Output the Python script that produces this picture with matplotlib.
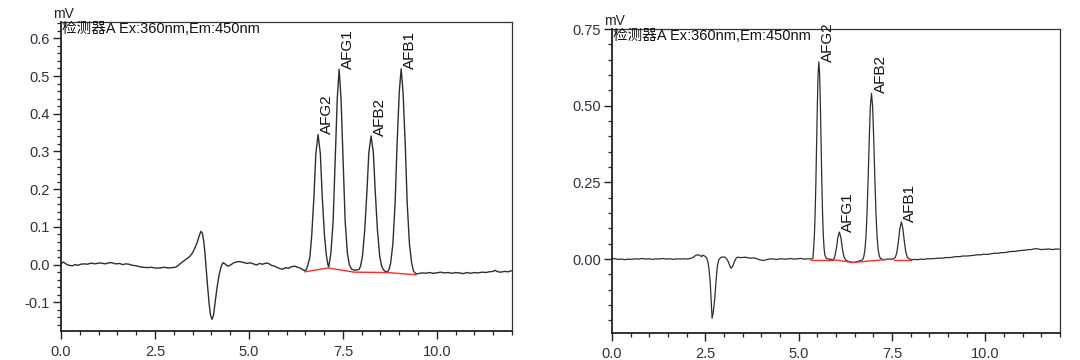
import matplotlib
matplotlib.use("Agg")
import matplotlib.pyplot as plt
from matplotlib.ticker import MultipleLocator, FixedLocator

# ---------------- data: left chromatogram ----------------
left_time = [
    0.00, 0.06, 0.12, 0.16, 0.22, 0.30, 0.38, 0.45, 0.52, 0.62, 0.70, 0.80, 0.90, 1.00,
    1.08, 1.18, 1.27, 1.35, 1.45, 1.55, 1.65, 1.72, 1.81, 1.90, 2.00, 2.10, 2.18, 2.30,
    2.40, 2.50, 2.64, 2.75, 2.85, 2.95, 3.05, 3.12, 3.19, 3.27, 3.35, 3.42, 3.50, 3.56,
    3.62, 3.67, 3.72, 3.76, 3.80, 3.83, 3.86, 3.90, 3.94, 3.98, 4.02, 4.06, 4.10, 4.15,
    4.20, 4.26, 4.31, 4.36, 4.43, 4.50, 4.58, 4.66, 4.75, 4.85, 4.95, 5.02, 5.12, 5.20,
    5.28, 5.36, 5.45, 5.52, 5.60, 5.68, 5.76, 5.84, 5.90, 5.98, 6.05, 6.12, 6.22, 6.30,
    6.38, 6.45, 6.50, 6.53,
    6.56, 6.62, 6.67, 6.73, 6.78, 6.84, 6.90, 6.95, 7.01, 7.06, 7.10, 7.12,
    7.14, 7.18, 7.24, 7.29, 7.35, 7.40, 7.45, 7.51, 7.56, 7.62, 7.67, 7.73, 7.81,
    7.93, 7.97, 8.02, 8.08, 8.14, 8.19, 8.25, 8.31, 8.36, 8.42, 8.48, 8.53, 8.58, 8.63, 8.69,
    8.73, 8.77, 8.83, 8.89, 8.94, 9.00, 9.05, 9.10, 9.16, 9.21, 9.27, 9.33, 9.38, 9.44,
    9.50, 9.60, 9.70, 9.80, 9.90, 10.00, 10.10, 10.20, 10.30, 10.40, 10.50, 10.60, 10.70,
    10.80, 10.90, 11.00, 11.10, 11.20, 11.30, 11.40, 11.50, 11.55, 11.62, 11.70, 11.80,
    11.90, 12.00,
]
left_signal = [
    0.002, 0.007, 0.003, 0.000, -0.002, -0.003, 0.000, -0.002, 0.001, 0.002, 0.001, 0.004, 0.002, 0.004,
    0.004, 0.002, 0.005, 0.005, 0.002, 0.003, 0.000, 0.002, 0.001, -0.002, -0.003, -0.006, -0.007, -0.008,
    -0.007, -0.009, -0.009, -0.007, -0.009, -0.008, -0.007, -0.002, 0.004, 0.010, 0.016, 0.021, 0.031, 0.044,
    0.058, 0.074, 0.088, 0.084, 0.060, 0.030, -0.008, -0.058, -0.103, -0.135, -0.145, -0.133, -0.100, -0.062,
    -0.030, -0.005, 0.005, 0.002, -0.004, -0.002, 0.004, 0.007, 0.008, 0.006, 0.003, 0.005, 0.002, -0.001,
    0.003, 0.001, 0.004, 0.003, -0.002, -0.004, -0.008, -0.011, -0.012, -0.008, -0.010, -0.006, -0.004, -0.007,
    -0.010, -0.015, -0.016, -0.012,
    -0.004, 0.019, 0.077, 0.181, 0.294, 0.345, 0.294, 0.181, 0.077, 0.025, 0.000, -0.006,
    0.004, 0.030, 0.115, 0.265, 0.440, 0.518, 0.440, 0.265, 0.115, 0.030, 0.000, -0.012, -0.015,
    -0.013, -0.004, 0.022, 0.090, 0.195, 0.297, 0.341, 0.297, 0.195, 0.090, 0.022, -0.004, -0.014, -0.018, -0.019,
    -0.012, 0.004, 0.055, 0.165, 0.315, 0.458, 0.519, 0.458, 0.315, 0.165, 0.055, 0.004, -0.018, -0.024,
    -0.024, -0.022, -0.023, -0.021, -0.023, -0.022, -0.020, -0.022, -0.021, -0.023, -0.021, -0.022, -0.024,
    -0.021, -0.023, -0.021, -0.022, -0.020, -0.021, -0.019, -0.018, -0.015, -0.019, -0.020, -0.018,
    -0.019, -0.016,
]
left_base_time = [6.49, 7.11, 7.80, 8.68, 9.45]
left_base_signal = [-0.019, -0.009, -0.020, -0.021, -0.027]
left_peak_names = ["AFG2", "AFG1", "AFB2", "AFB1"]
left_peak_time = [6.84, 7.40, 8.25, 9.05]
left_peak_height = [0.345, 0.518, 0.341, 0.519]

# ---------------- data: right chromatogram ----------------
right_time = [
    0.00, 0.08, 0.16, 0.25, 0.35, 0.44, 0.52, 0.62, 0.72, 0.81, 0.90, 1.00, 1.10, 1.18,
    1.27, 1.36, 1.45, 1.55, 1.65, 1.73, 1.82, 1.92, 2.02, 2.10, 2.18, 2.24, 2.29, 2.35,
    2.40, 2.43, 2.48, 2.53, 2.57, 2.60, 2.63, 2.66, 2.68, 2.71, 2.75, 2.79, 2.82, 2.86,
    2.92, 2.98, 3.03, 3.08, 3.12, 3.16, 3.19, 3.23, 3.27, 3.31, 3.35, 3.45, 3.58, 3.70,
    3.80, 3.86, 3.95, 4.02, 4.09, 4.16, 4.25, 4.32, 4.42, 4.52, 4.60, 4.69, 4.78, 4.88,
    4.97, 5.06, 5.15, 5.25, 5.33, 5.38,
    5.40, 5.42, 5.44, 5.46, 5.48, 5.50, 5.52, 5.54, 5.56, 5.58, 5.60, 5.62, 5.64, 5.66,
    5.68, 5.70, 5.74, 5.80, 5.88,
    5.93, 5.97, 6.01, 6.05, 6.09, 6.13, 6.17, 6.21, 6.25, 6.32, 6.44, 6.52, 6.60,
    6.68, 6.71, 6.74, 6.77, 6.80, 6.83, 6.86, 6.89, 6.92, 6.95, 6.98, 7.01, 7.04, 7.07,
    7.10, 7.13, 7.16, 7.19, 7.28, 7.36, 7.43,
    7.50, 7.55, 7.59, 7.63, 7.67, 7.71, 7.75, 7.79, 7.83, 7.87, 7.91, 7.95, 8.05,
    8.12, 8.19, 8.28, 8.36, 8.45, 8.55, 8.65, 8.75, 8.85, 8.95, 9.05, 9.11, 9.20, 9.30,
    9.40, 9.50, 9.58, 9.68, 9.78, 9.88, 9.96, 10.04, 10.14, 10.24, 10.34, 10.42, 10.50,
    10.60, 10.70, 10.80, 10.88, 10.96, 11.05, 11.15, 11.24, 11.33, 11.42, 11.50, 11.60,
    11.70, 11.80, 11.90, 12.00,
]
right_signal = [
    0.002, 0.001, -0.001, 0.000, -0.002, 0.000, -0.001, 0.001, 0.000, 0.002, 0.000, 0.001, -0.001, 0.001,
    0.000, 0.002, 0.000, 0.001, -0.001, 0.001, 0.000, 0.001, 0.000, 0.002, 0.006, 0.012, 0.014, 0.012,
    0.008, 0.013, 0.010, 0.005, -0.010, -0.035, -0.075, -0.150, -0.193, -0.175, -0.130, -0.065, -0.024, -0.002,
    0.006, 0.007, 0.006, -0.001, -0.010, -0.024, -0.030, -0.024, -0.011, 0.000, 0.006, 0.005, 0.006, 0.003,
    0.004, 0.002, -0.002, -0.004, -0.004, -0.001, 0.001, 0.000, -0.001, 0.001, 0.000, 0.000, 0.002, 0.000,
    0.001, 0.002, 0.000, 0.001, 0.000, 0.002,
    0.035, 0.076, 0.145, 0.248, 0.377, 0.507, 0.606, 0.643, 0.606, 0.507, 0.377, 0.248, 0.145, 0.076,
    0.035, 0.014, 0.002, 0.000, -0.001,
    -0.002, 0.010, 0.035, 0.071, 0.088, 0.070, 0.034, 0.009, -0.002, -0.007, -0.011, -0.010, -0.007,
    -0.004, -0.002, 0.006, 0.026, 0.069, 0.147, 0.261, 0.391, 0.498, 0.540, 0.498, 0.391, 0.262, 0.149,
    0.072, 0.029, 0.010, 0.002, -0.002, 0.000, 0.000,
    0.000, 0.001, 0.006, 0.022, 0.057, 0.100, 0.121, 0.100, 0.057, 0.022, 0.006, 0.001, -0.002,
    -0.001, -0.002, 0.000, -0.001, 0.001, 0.001, 0.002, 0.003, 0.003, 0.005, 0.005, 0.006, 0.008, 0.008,
    0.010, 0.010, 0.011, 0.012, 0.014, 0.014, 0.016, 0.015, 0.017, 0.019, 0.019, 0.021, 0.021,
    0.023, 0.025, 0.025, 0.027, 0.028, 0.029, 0.031, 0.031, 0.034, 0.033, 0.031, 0.032,
    0.033, 0.031, 0.033, 0.032,
]
right_base_segments = [
    ([5.33, 5.93], [-0.002, -0.002]),
    ([5.93, 6.44], [-0.002, -0.011]),
    ([6.44, 7.32], [-0.011, -0.002]),
    ([7.55, 8.01], [-0.002, -0.002]),
]
right_peak_names = ["AFG2", "AFG1", "AFB2", "AFB1"]
right_peak_time = [5.54, 6.09, 6.95, 7.75]
right_peak_height = [0.643, 0.088, 0.540, 0.121]

x_major = [0.0, 2.5, 5.0, 7.5, 10.0]
x_labels = ["0.0", "2.5", "5.0", "7.5", "10.0"]
left_y_major = [-0.1, 0.0, 0.1, 0.2, 0.3, 0.4, 0.5, 0.6]
left_y_labels = ["-0.1", "0.0", "0.1", "0.2", "0.3", "0.4", "0.5", "0.6"]
right_y_major = [0.0, 0.25, 0.50, 0.75]
right_y_labels = ["0.00", "0.25", "0.50", "0.75"]
detector_label = "检测器A Ex:360nm,Em:450nm"
unit_label = "mV"

# ---------------- drawing ----------------
FONT = ["Liberation Sans", "Noto Sans CJK SC", "DejaVu Sans"]
plt.rcParams["font.family"] = FONT
TICK_COLOR = "#2b3340"
TRACE = "#2e2e2e"
RED = "#ff2a2a"

fig = plt.figure(figsize=(10.8, 3.6), dpi=100)
ax1 = fig.add_axes([0.0565, 0.0806, 0.4176, 0.858])
ax2 = fig.add_axes([0.5667, 0.0758, 0.4148, 0.8436])


def style(ax, ylim, ymaj, ylab, yminor):
    ax.set_xlim(0, 12)
    ax.set_ylim(*ylim)
    ax.xaxis.set_major_locator(FixedLocator(x_major))
    ax.set_xticklabels(x_labels)
    ax.xaxis.set_minor_locator(MultipleLocator(0.5))
    ax.yaxis.set_major_locator(FixedLocator(ymaj))
    ax.set_yticklabels(ylab)
    ax.yaxis.set_minor_locator(MultipleLocator(yminor))
    ax.tick_params(which="major", direction="out", length=6, width=1.0,
                   color="#222222", labelsize=10.5, labelcolor=TICK_COLOR, pad=2)
    ax.tick_params(which="minor", direction="out", length=3, width=0.9, color="#222222")
    ax.tick_params(axis="x", which="major", pad=4)
    for side in ["left", "bottom"]:
        ax.spines[side].set_linewidth(1.3)
        ax.spines[side].set_color("#222222")
    for side in ["top", "right"]:
        ax.spines[side].set_linewidth(0.9)
        ax.spines[side].set_color("#333333")
    ax.annotate(unit_label, xy=(0, 1), xycoords="axes fraction", xytext=(-8, 8),
                textcoords="offset pixels", ha="left", va="center", fontsize=10,
                color="#222222")
    ax.annotate(detector_label, xy=(0, 1), xycoords="axes fraction", xytext=(1, 0),
                textcoords="offset pixels", ha="left", va="top", fontsize=10.5,
                color="#111111", family=FONT)


style(ax1, (-0.176, 0.643), left_y_major, left_y_labels, 0.02)
style(ax2, (-0.24, 0.75), right_y_major, right_y_labels, 0.05)

ax1.plot(left_time, left_signal, color=TRACE, lw=1.0)
ax1.plot(left_base_time, left_base_signal, color=RED, lw=1.0)
for name, t, h in zip(left_peak_names, left_peak_time, left_peak_height):
    ax1.annotate(name, xy=(t, h), xytext=(9, 0), textcoords="offset pixels",
                 rotation=90, ha="center", va="bottom", fontsize=11, color="#111111")

ax2.plot(right_time, right_signal, color=TRACE, lw=0.9)
for seg_t, seg_s in right_base_segments:
    ax2.plot(seg_t, seg_s, color=RED, lw=1.0)
for name, t, h in zip(right_peak_names, right_peak_time, right_peak_height):
    ax2.annotate(name, xy=(t, h), xytext=(9, 0), textcoords="offset pixels",
                 rotation=90, ha="center", va="bottom", fontsize=11, color="#111111")

fig.savefig("out.png", dpi=100)
